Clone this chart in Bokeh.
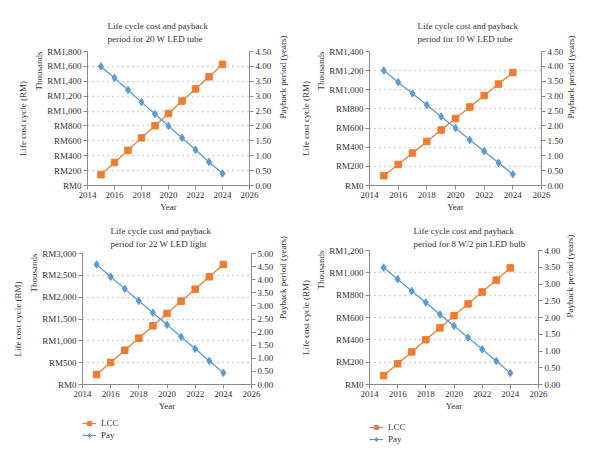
import math
from bokeh.plotting import figure
from bokeh.models import (Range1d, LinearAxis, FixedTicker, Title, Legend, LegendItem,
                          CustomJSTickFormatter, NumeralTickFormatter)
from bokeh.layouts import column, row
from bokeh.embed import file_html
from bokeh.resources import INLINE

# ---------------- data ----------------
years = [2015, 2016, 2017, 2018, 2019, 2020, 2021, 2022, 2023, 2024]
year_ticks = [2014, 2016, 2018, 2020, 2022, 2024, 2026]

lcc_20w = [146, 309, 472, 640, 803, 966, 1134, 1297, 1460, 1628]
pay_20w = [4.00, 3.61, 3.21, 2.80, 2.40, 2.00, 1.60, 1.20, 0.79, 0.40]
lcc_ticks_20w = [0, 200, 400, 600, 800, 1000, 1200, 1400, 1600, 1800]
pay_ticks_20w = [0, 0.5, 1.0, 1.5, 2.0, 2.5, 3.0, 3.5, 4.0, 4.5]

lcc_10w = [103, 220, 340, 460, 580, 700, 820, 940, 1060, 1180]
pay_10w = [3.86, 3.47, 3.09, 2.70, 2.32, 1.93, 1.53, 1.15, 0.76, 0.38]
lcc_ticks_10w = [0, 200, 400, 600, 800, 1000, 1200, 1400]
pay_ticks_10w = [0, 0.5, 1.0, 1.5, 2.0, 2.5, 3.0, 3.5, 4.0, 4.5]

lcc_22w = [229, 504, 786, 1061, 1344, 1626, 1908, 2183, 2466, 2748]
pay_22w = [4.58, 4.11, 3.65, 3.19, 2.74, 2.28, 1.82, 1.36, 0.90, 0.45]
lcc_ticks_22w = [0, 500, 1000, 1500, 2000, 2500, 3000]
pay_ticks_22w = [0, 0.5, 1.0, 1.5, 2.0, 2.5, 3.0, 3.5, 4.0, 4.5, 5.0]

lcc_8w = [80, 186, 292, 401, 507, 616, 722, 828, 935, 1044]
pay_8w = [3.49, 3.14, 2.79, 2.45, 2.09, 1.75, 1.40, 1.05, 0.70, 0.34]
lcc_ticks_8w = [0, 200, 400, 600, 800, 1000, 1200]
pay_ticks_8w = [0, 0.5, 1.0, 1.5, 2.0, 2.5, 3.0, 3.5, 4.0]

title_line1 = "Life cycle cost and payback"
title_20w = "period for 20 W LED tube"
title_10w = "period for 10 W LED tube"
title_22w = "period for 22 W LED light"
title_8w = "period for 8 W/2 pin LED bulb"

left_label = "Life cost cycle (RM)"
unit_label = "Thousands"
right_label = "Payback period (years)"
x_label = "Year"
series_names = ["LCC", "Pay"]

# ---------------- style ----------------
FONT = "Liberation Serif"
ORANGE = "#ED7D31"
BLUE = "#5B9BD5"
AXIS = "#8a8a8a"
TEXT = "#333333"
TICK_FS = "9px"
LAB_FS = "9px"

rm_fmt = CustomJSTickFormatter(code='return "RM" + Math.round(tick).toLocaleString("en-US");')


def ttl(text, align="center", offset=0, standoff=1, **kw):
    return Title(text=text, align=align, offset=offset, standoff=standoff,
                 text_font=FONT, text_font_size=LAB_FS, text_font_style="normal",
                 text_color=TEXT, **kw)


def make_chart(title2, lcc, pay, lcc_ticks, pay_ticks, geo):
    w, h, fl, fr, ft, fb = geo["w"], geo["h"], geo["fl"], geo["fr"], geo["ft"], geo["fb"]
    p = figure(width=w, height=h, output_backend="svg", toolbar_location=None,
               x_range=Range1d(year_ticks[0], year_ticks[-1]),
               y_range=Range1d(lcc_ticks[0], lcc_ticks[-1]),
               min_border_left=fl, min_border_right=w - fr,
               min_border_top=ft, min_border_bottom=h - fb)
    p.extra_y_ranges = {"pay": Range1d(pay_ticks[0], pay_ticks[-1])}
    p.outline_line_color = None
    p.background_fill_color = "white"
    p.border_fill_color = "white"
    p.xgrid.visible = False
    p.ygrid.ticker = FixedTicker(ticks=lcc_ticks[1:-1])
    p.ygrid.grid_line_color = "#a8a8a8"
    p.ygrid.grid_line_dash = "1 4"
    p.ygrid.grid_line_width = 1.3

    p.add_layout(LinearAxis(y_range_name="pay"), "right")

    for ax in p.axis:
        ax.axis_line_color = AXIS
        ax.major_tick_line_color = AXIS
        ax.major_tick_out = 4
        ax.major_tick_in = 0
        ax.minor_tick_line_color = None
        ax.major_label_text_font = FONT
        ax.major_label_text_font_size = TICK_FS
        ax.major_label_text_color = TEXT
        ax.major_label_standoff = 2
        ax.axis_label_text_font = FONT
        ax.axis_label_text_font_size = LAB_FS
        ax.axis_label_text_font_style = "normal"
        ax.axis_label_text_color = TEXT

    p.xaxis.ticker = FixedTicker(ticks=year_ticks)
    p.xaxis.axis_label = x_label
    p.xaxis.axis_label_standoff = 1
    p.yaxis[0].ticker = FixedTicker(ticks=lcc_ticks)
    p.yaxis[0].formatter = rm_fmt
    ra = p.yaxis[1]
    ra.ticker = FixedTicker(ticks=pay_ticks)
    ra.formatter = NumeralTickFormatter(format="0.00")
    ra.axis_label = right_label
    ra.axis_label_standoff = geo["rs"]
    if "axis_label_orientation" in ra.properties():
        ra.axis_label_orientation = math.pi / 2

    # two-line title, then the unit and axis labels on the left
    p.add_layout(ttl(title_line1 + "\n" + title2, align="left", offset=geo["o1"],
                     standoff=geo["ts"], text_line_height=1.3), "above")
    p.add_layout(ttl(unit_label, align="right", offset=0, standoff=2), "left")
    p.add_layout(ttl(left_label, standoff=geo["ls"]), "left")

    p.line(years, lcc, color=ORANGE, line_width=1.3)
    p.scatter(years, lcc, marker="square", size=6.5, color=ORANGE)
    p.line(years, pay, color=BLUE, line_width=1.3, y_range_name="pay")
    p.scatter(years, pay, marker="diamond", size=7.5, color=BLUE, y_range_name="pay")
    return p


def make_legend(lcc, pay, geo):
    lf = figure(width=geo["w"], height=geo["lh"], output_backend="svg", toolbar_location=None,
                x_range=Range1d(0, 1), y_range=Range1d(0, 1),
                x_axis_type=None, y_axis_type=None, min_border=0)
    lf.outline_line_color = None
    # the series drawn again here fall outside this tiny frame; they only feed the legend
    a = lf.line(years, lcc, color=ORANGE, line_width=1.3)
    b = lf.scatter(years, lcc, marker="square", size=6.5, color=ORANGE)
    c = lf.line(years, pay, color=BLUE, line_width=1.3)
    d = lf.scatter(years, pay, marker="diamond", size=7.5, color=BLUE)
    leg = Legend(items=[LegendItem(label=series_names[0], renderers=[a, b]),
                        LegendItem(label=series_names[1], renderers=[c, d])],
                 location=(geo["lx"], geo["ly"]), orientation="vertical")
    leg.border_line_color = None
    leg.background_fill_alpha = 0
    leg.label_text_font = FONT
    leg.label_text_font_size = LAB_FS
    leg.label_text_color = TEXT
    leg.glyph_width = 14
    leg.glyph_height = 10
    leg.label_height = 10
    leg.label_standoff = 5
    leg.spacing = 2
    leg.padding = 2
    leg.margin = 0
    lf.add_layout(leg)
    return lf


geo1 = dict(w=296, h=214, fl=87, fr=258, ft=51, fb=187, o1=20, ts=16, ls=5, rs=9)
geo2 = dict(w=296, h=214, fl=67, fr=245, ft=51, fb=187, o1=48, ts=16, ls=4, rs=5)
geo3 = dict(w=296, h=199, fl=82, fr=255, ft=39, fb=170, o1=28, ts=10, ls=5, rs=7,
            lh=46, lx=0, ly=19)
geo4 = dict(w=296, h=199, fl=69, fr=242, ft=36, fb=172, o1=44, ts=4, ls=4, rs=7,
            lh=46, lx=0, ly=15)

p1 = make_chart(title_20w, lcc_20w, pay_20w, lcc_ticks_20w, pay_ticks_20w, geo1)
p2 = make_chart(title_10w, lcc_10w, pay_10w, lcc_ticks_10w, pay_ticks_10w, geo2)
p3 = make_chart(title_22w, lcc_22w, pay_22w, lcc_ticks_22w, pay_ticks_22w, geo3)
p4 = make_chart(title_8w, lcc_8w, pay_8w, lcc_ticks_8w, pay_ticks_8w, geo4)
l3 = make_legend(lcc_22w, pay_22w, geo3)
l4 = make_legend(lcc_8w, pay_8w, geo4)

layout = column(row(p1, p2, spacing=0),
                row(column(p3, l3, spacing=0), column(p4, l4, spacing=0), spacing=0),
                spacing=0)
open("out.html", "w").write(file_html(layout, INLINE))
